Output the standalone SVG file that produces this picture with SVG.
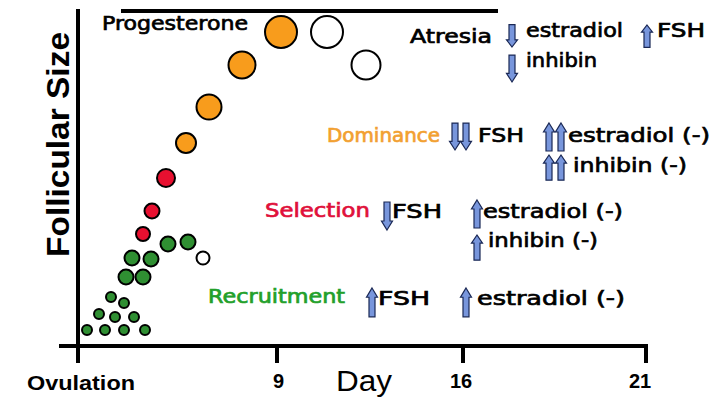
<svg xmlns="http://www.w3.org/2000/svg" xmlns:xlink="http://www.w3.org/1999/xlink" width="720" height="405" viewBox="0 0 720 405">
<style>
.ax{stroke:#000;stroke-width:4;fill:none}
.lbl{font-family:"DejaVu Sans","Liberation Sans",sans-serif;font-size:19.5px;fill:#000;stroke:#000;stroke-width:0.7}
.org{fill:#F2A030;stroke:#F2A030}
.red{fill:#E0103A;stroke:#E0103A}
.grn{fill:#22A02A;stroke:#22A02A}
.axl{font-family:"Liberation Sans",Arial,sans-serif;font-weight:bold;font-size:20px;fill:#000}
.f{stroke:#000;stroke-width:2}
.fo{fill:#F89C1C}
.fr{fill:#E81030}
.fg{fill:#2F8F32}
.fw{fill:#fff}
.arr{fill:#7896DC;stroke:#1A2855;stroke-width:1.2}
</style>
<defs>
<path id="up" class="arr" vector-effect="non-scaling-stroke" d="M0,0 L5.5,9 L3,9 L3,28 L-3,28 L-3,9 L-5.5,9 Z"/>
</defs>
<rect width="720" height="405" fill="#fff"/>

<g id="axes">
<line class="ax" x1="78" y1="9" x2="78" y2="363"/>
<line class="ax" x1="59" y1="346" x2="648" y2="346"/>
<line class="ax" x1="277" y1="346" x2="277" y2="363"/>
<line class="ax" x1="463" y1="346" x2="463" y2="363"/>
<line class="ax" x1="646" y1="344" x2="646" y2="363"/>
<line class="ax" x1="121" y1="11" x2="498" y2="11"/>
<text x="0" y="0" transform="translate(69,257) rotate(-90)" font-family="Liberation Sans, Arial, sans-serif" font-weight="bold" font-size="31" textLength="225" lengthAdjust="spacingAndGlyphs">Follicular Size</text>
<text class="axl" x="27" y="390" textLength="108" lengthAdjust="spacingAndGlyphs">Ovulation</text>
<text class="axl" x="273" y="388">9</text>
<text x="336" y="391" font-family="Liberation Sans, Arial, sans-serif" font-size="30" textLength="56" lengthAdjust="spacingAndGlyphs">Day</text>
<text class="axl" x="450" y="388">16</text>
<text class="axl" x="629" y="388">21</text>
</g>

<g id="follicles">
<circle class="f fo" cx="281" cy="32" r="16"/>
<circle class="f fw" cx="327" cy="32" r="16"/>
<circle class="f fw" cx="366" cy="65" r="14.5"/>
<circle class="f fo" cx="242" cy="65" r="13.5"/>
<circle class="f fo" cx="209" cy="107" r="12.5"/>
<circle class="f fo" cx="186" cy="143" r="10"/>
<circle class="f fr" cx="166" cy="178" r="9"/>
<circle class="f fr" cx="152" cy="211" r="7.5"/>
<circle class="f fr" cx="143" cy="234" r="7"/>
<circle class="f fg" cx="168" cy="244" r="7.5"/>
<circle class="f fg" cx="188" cy="242" r="7.5"/>
<circle class="f fw" cx="203" cy="258" r="6.5"/>
<circle class="f fg" cx="132" cy="258" r="7.5"/>
<circle class="f fg" cx="151" cy="259" r="7.5"/>
<circle class="f fg" cx="126" cy="277" r="7.5"/>
<circle class="f fg" cx="143" cy="277" r="7.5"/>
<circle class="f fg" cx="111" cy="297" r="5"/>
<circle class="f fg" cx="124" cy="303" r="5"/>
<circle class="f fg" cx="99" cy="314" r="5"/>
<circle class="f fg" cx="115" cy="317" r="5"/>
<circle class="f fg" cx="134" cy="317" r="5"/>
<circle class="f fg" cx="87" cy="330" r="5"/>
<circle class="f fg" cx="105" cy="330" r="5"/>
<circle class="f fg" cx="124" cy="330" r="5"/>
<circle class="f fg" cx="145" cy="330" r="5"/>
</g>

<g id="progesterone">
<text class="lbl" x="102" y="30" textLength="146" lengthAdjust="spacingAndGlyphs">Progesterone</text>
</g>

<g id="atresia">
<text class="lbl" x="410" y="43" textLength="82" lengthAdjust="spacingAndGlyphs">Atresia</text>
<use xlink:href="#up" transform="translate(512,47) scale(1,-0.8)"/>
<use xlink:href="#up" transform="translate(512,82) scale(1,-0.96)"/>
<text class="lbl" x="526" y="37" textLength="97" lengthAdjust="spacingAndGlyphs">estradiol</text>
<text class="lbl" x="526" y="67" textLength="71" lengthAdjust="spacingAndGlyphs">inhibin</text>
<use xlink:href="#up" transform="translate(647,25) scale(1,0.8)"/>
<text class="lbl" x="657" y="37" textLength="48" lengthAdjust="spacingAndGlyphs">FSH</text>
</g>

<g id="dominance">
<text class="lbl org" x="327" y="142" textLength="113" lengthAdjust="spacingAndGlyphs">Dominance</text>
<use xlink:href="#up" transform="translate(455,150) scale(1,-0.96)"/>
<use xlink:href="#up" transform="translate(466,150) scale(1,-0.96)"/>
<text class="lbl" x="478" y="142" textLength="46" lengthAdjust="spacingAndGlyphs">FSH</text>
<use xlink:href="#up" transform="translate(549,123) scale(1,1)"/>
<use xlink:href="#up" transform="translate(561,123) scale(1,1)"/>
<text class="lbl" x="568" y="142" textLength="142" lengthAdjust="spacingAndGlyphs">estradiol (-)</text>
<use xlink:href="#up" transform="translate(549,155) scale(1,0.9)"/>
<use xlink:href="#up" transform="translate(561,155) scale(1,0.9)"/>
<text class="lbl" x="573" y="172" textLength="114" lengthAdjust="spacingAndGlyphs">inhibin (-)</text>
</g>

<g id="selection">
<text class="lbl red" x="265" y="217" textLength="105" lengthAdjust="spacingAndGlyphs">Selection</text>
<use xlink:href="#up" transform="translate(387,230) scale(1,-1)"/>
<text class="lbl" x="392" y="218" textLength="50" lengthAdjust="spacingAndGlyphs">FSH</text>
<use xlink:href="#up" transform="translate(477,200) scale(1,1)"/>
<text class="lbl" x="483" y="218" textLength="140" lengthAdjust="spacingAndGlyphs">estradiol (-)</text>
<use xlink:href="#up" transform="translate(477,235) scale(1,0.9)"/>
<text class="lbl" x="488" y="247" textLength="110" lengthAdjust="spacingAndGlyphs">inhibin (-)</text>
</g>

<g id="recruitment">
<text class="lbl grn" x="208" y="303" textLength="137" lengthAdjust="spacingAndGlyphs">Recruitment</text>
<use xlink:href="#up" transform="translate(372,288) scale(1,1.03)"/>
<text class="lbl" x="378" y="305" textLength="52" lengthAdjust="spacingAndGlyphs">FSH</text>
<use xlink:href="#up" transform="translate(466,288) scale(1,1.03)"/>
<text class="lbl" x="477" y="305" textLength="148" lengthAdjust="spacingAndGlyphs">estradiol (-)</text>
</g>
<g id="connectors"/>
</svg>
